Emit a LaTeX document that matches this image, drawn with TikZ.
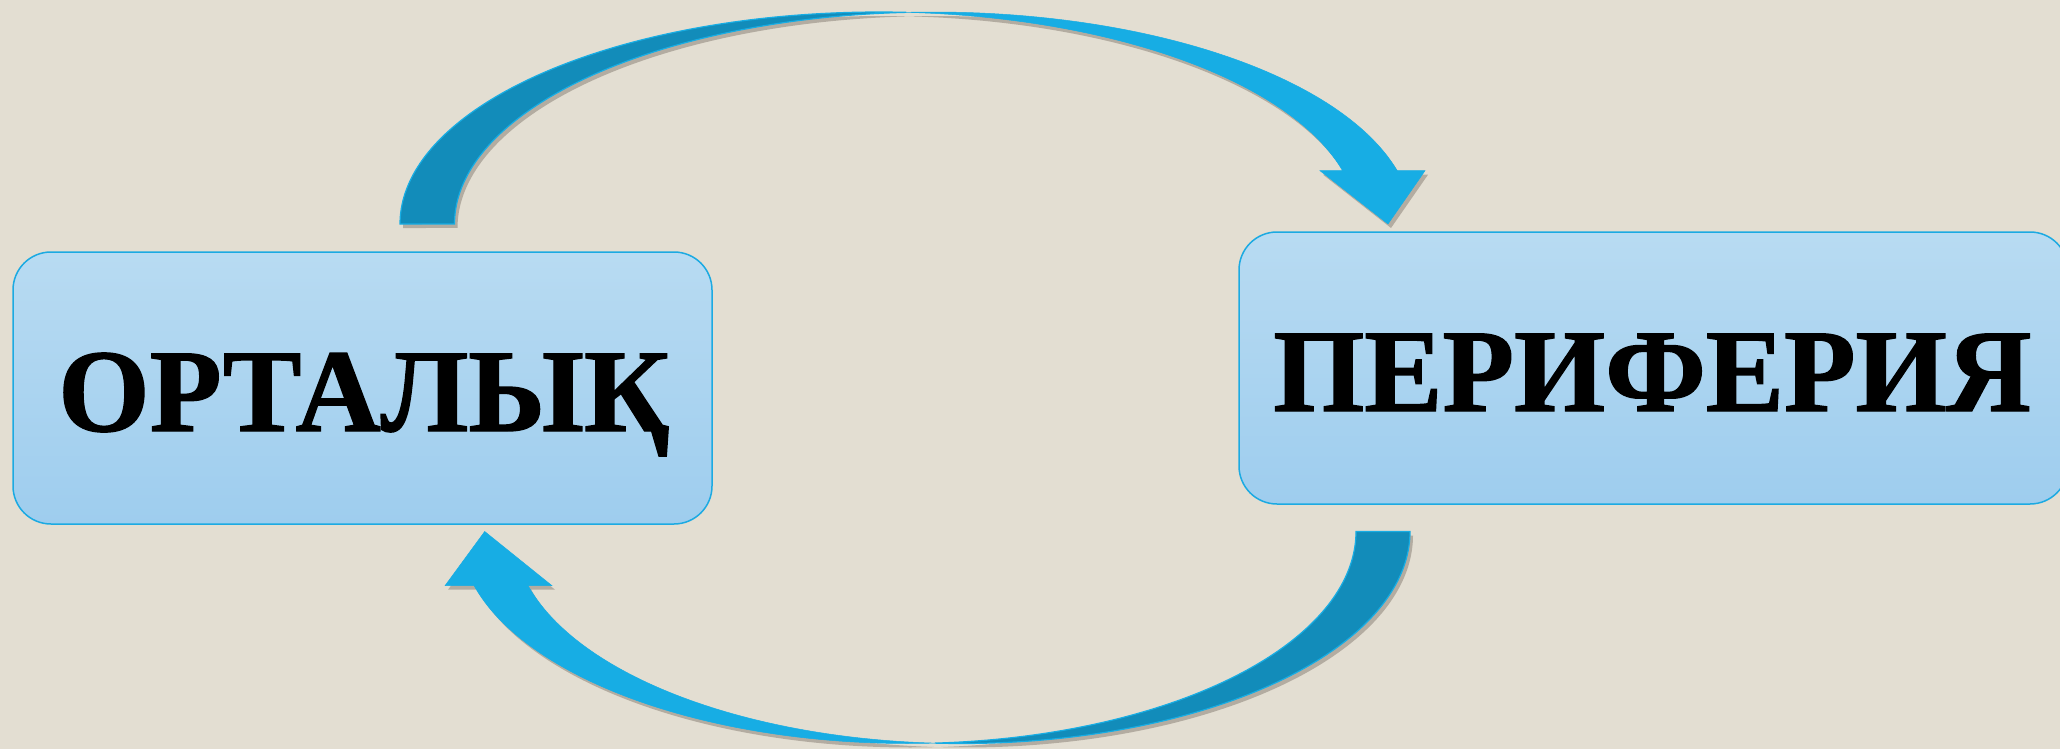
\documentclass[tikz,border=0pt]{standalone}
\usepackage{fontspec}
\newfontfamily\boxfont{Liberation Serif}[UprightFont={* Bold}, FakeBold=1.2]
\usetikzlibrary{shadows}
\definecolor{bg}{HTML}{E3DED2}
\definecolor{boxtop}{HTML}{B8DBF2}
\definecolor{boxbot}{HTML}{9ECDEE}
\definecolor{boxline}{HTML}{1CAAE2}
\definecolor{arrlight}{HTML}{17ADE4}
\definecolor{arrdark}{HTML}{128CBA}
\definecolor{shadowc}{HTML}{5A5046}
\begin{document}
\begin{tikzpicture}[x=1pt,y=-1pt,
  box/.style={draw=boxline, line width=1.5pt, rounded corners=38pt, top color=boxtop, bottom color=boxbot, inner sep=0pt},
  boxtext/.style={inner sep=0pt, anchor=base west, font=\boxfont\fontsize{118}{118}\selectfont},
  arrowshadow/.style={drop shadow={shadow xshift=3pt, shadow yshift=-4pt, opacity=0.35, fill=shadowc}},
  darkband/.style={fill=arrdark, draw=arrlight, line width=1.2pt, arrowshadow},
  lightband/.style={fill=arrlight, draw=arrlight, line width=0.5pt, arrowshadow},
]
\fill[bg] (0,0) rectangle (2060,749);
\useasboundingbox (0,0) rectangle (2060,749);

\node[box, minimum width=699pt, minimum height=272pt] (center) at (362.5,388) {};
\node[box, minimum width=829pt, minimum height=272pt] (periphery) at (1653.5,368) {};

\node[boxtext] (centertext) at (58,431) {\resizebox{611pt}{\height}{ОРТАЛЫҚ}};
\node[boxtext] (peripherytext) at (1273,411) {\resizebox{758pt}{\height}{ПЕРИФЕРИЯ}};

% top curved arrow (from centre to periphery)
\path[lightband] plot[domain=266.74:345.44, samples=90] ({933.5+479*cos(\x)},{224+212*sin(\x)})
  -- (1425,170.7) -- (1388,224) -- (1320,170.7)
  -- plot[domain=345.44:273.26, samples=90] ({879+479*cos(\x)},{224+212*sin(\x)}) -- cycle;
\path[darkband] plot[domain=180:273.26, samples=90] ({879+479*cos(\x)},{224+212*sin(\x)})
  -- plot[domain=266.74:180, samples=90] ({933.5+479*cos(\x)},{224+212*sin(\x)}) -- cycle;

% bottom curved arrow (from periphery to centre)
\path[lightband] plot[domain=86.55:165.19, samples=90] ({907.6+448.4*cos(\x)},{531.5+212*sin(\x)})
  -- (445,585.7) -- (484.7,531.5) -- (552,585.7)
  -- plot[domain=165.19:93.45, samples=90] ({961.6+448.4*cos(\x)},{531.5+212*sin(\x)}) -- cycle;
\path[darkband] plot[domain=0:93.45, samples=90] ({961.6+448.4*cos(\x)},{531.5+212*sin(\x)})
  -- plot[domain=86.55:0, samples=90] ({907.6+448.4*cos(\x)},{531.5+212*sin(\x)}) -- cycle;
\end{tikzpicture}
\end{document}
